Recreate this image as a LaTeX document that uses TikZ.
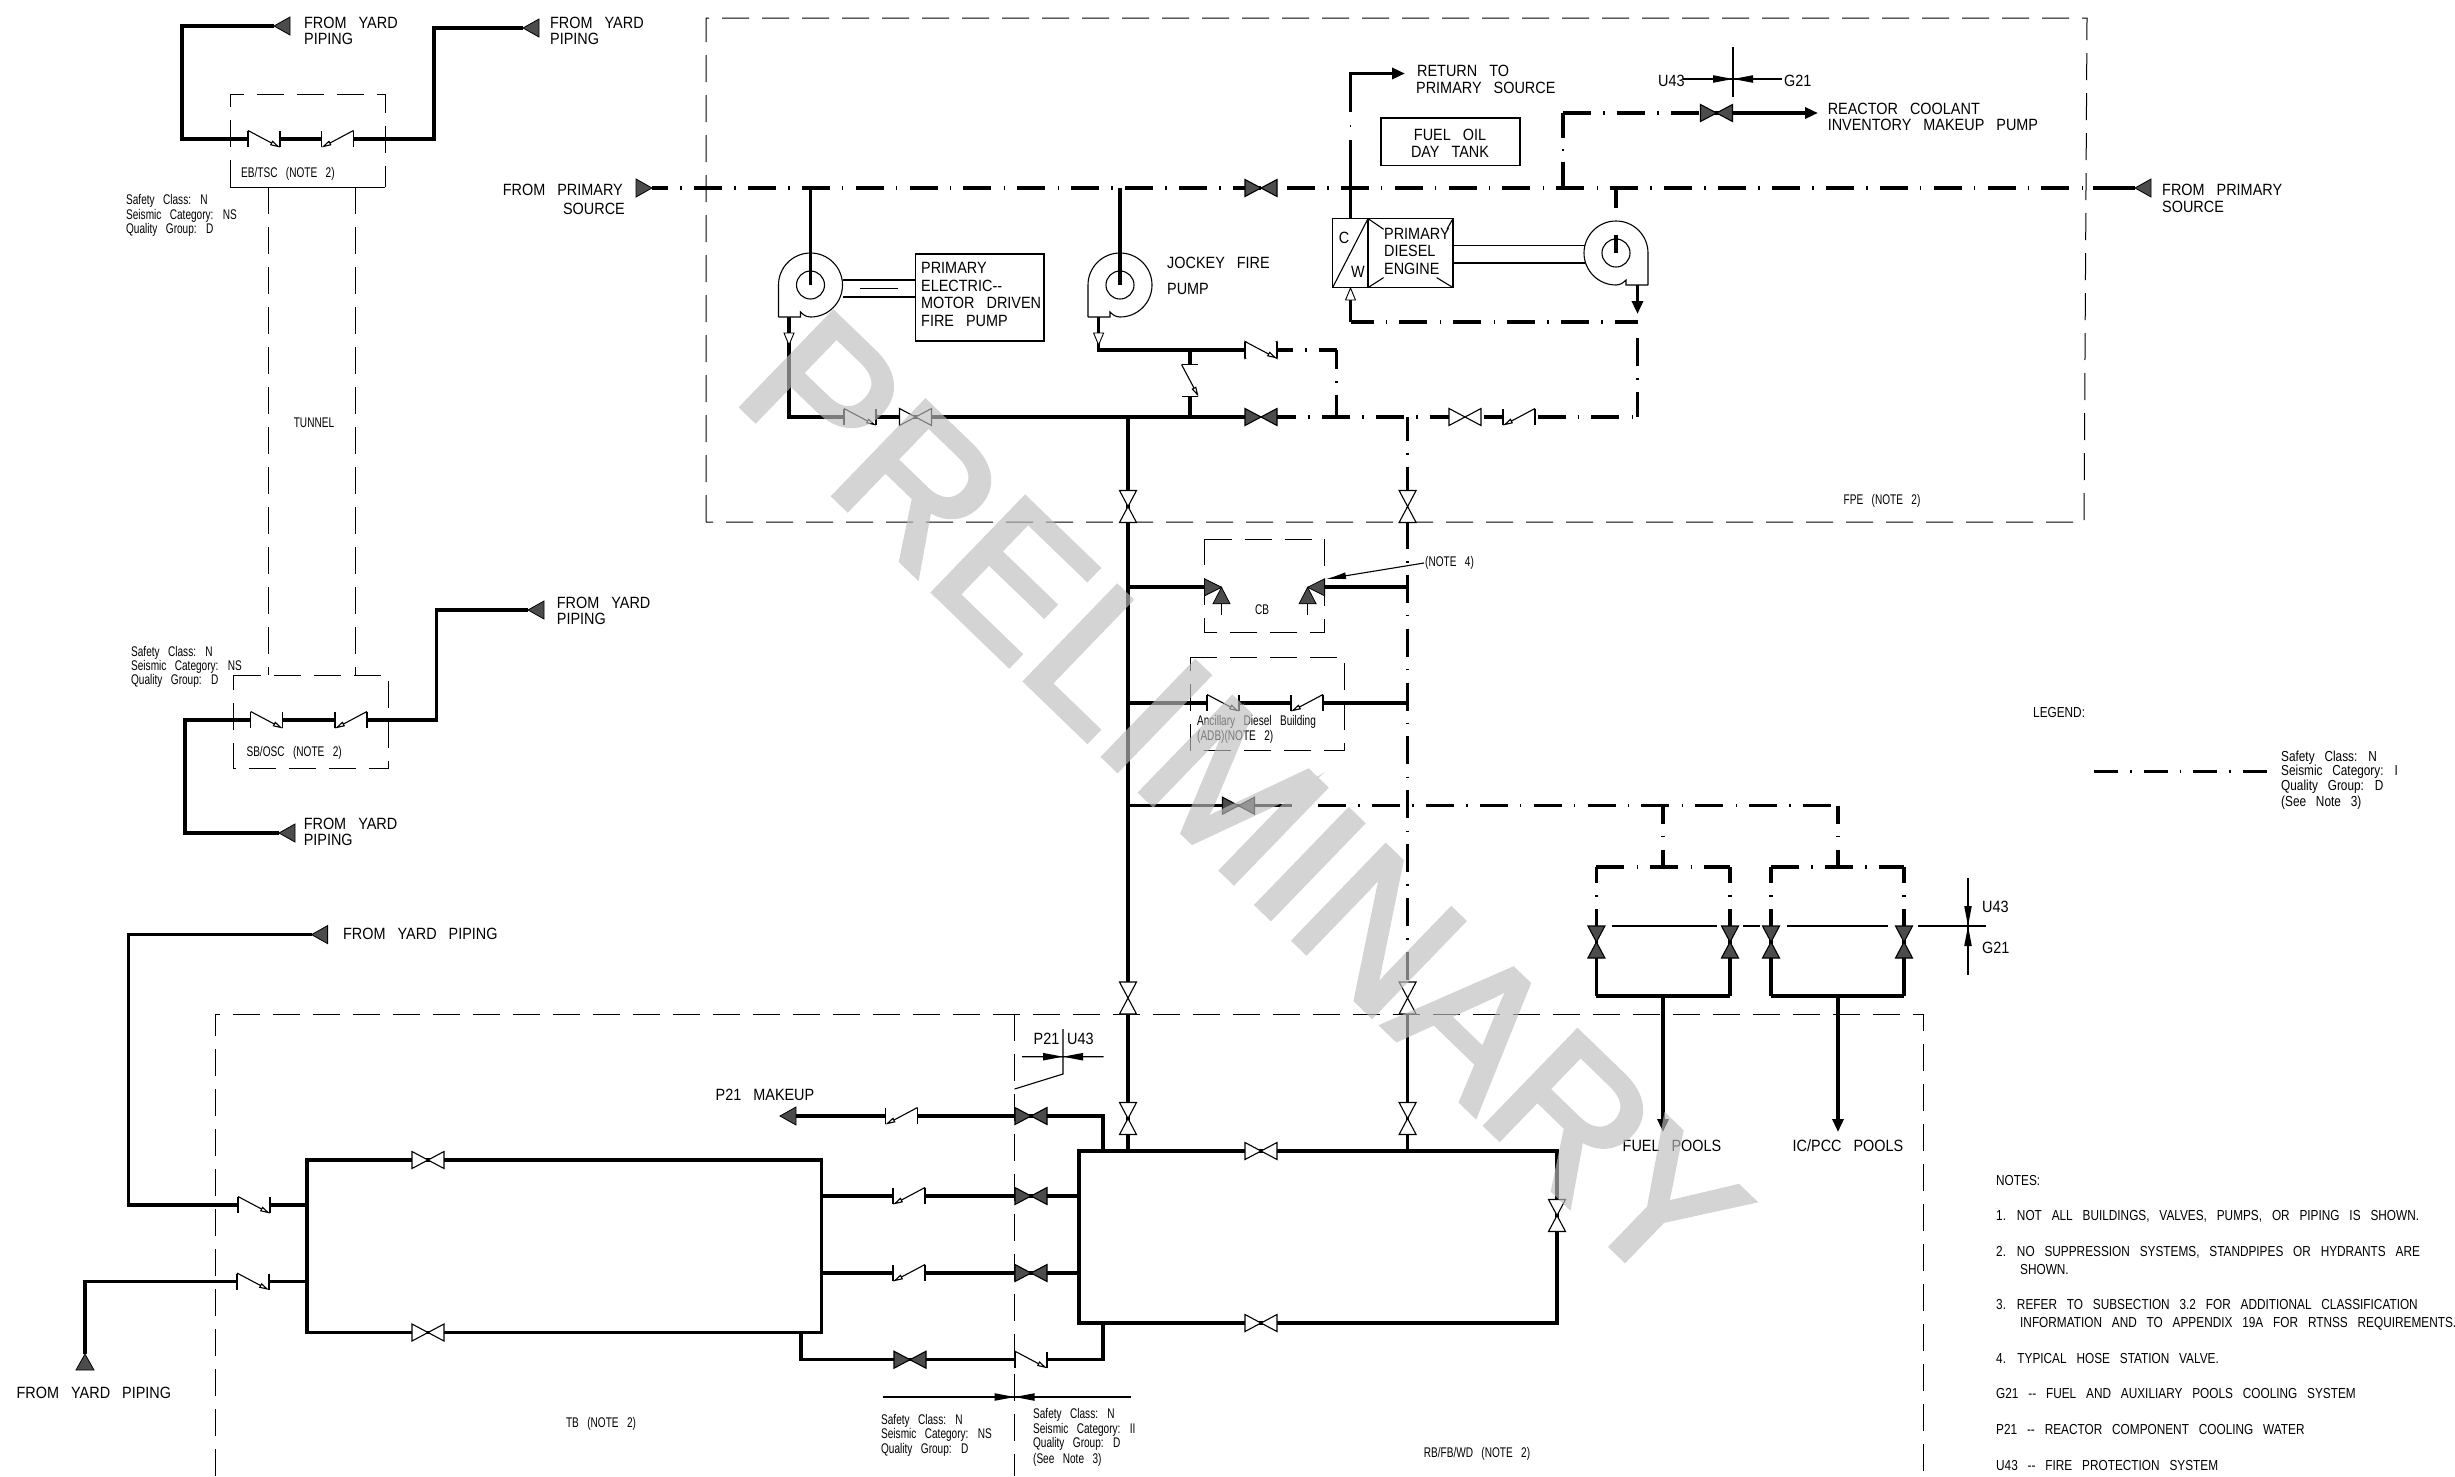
\documentclass[tikz,border=0pt]{standalone}
\usepackage{fontspec}
\setmainfont{Liberation Sans}
\newfontfamily\cadfont[WordSpace=3]{Liberation Sans}
\newfontfamily\wmfont[FakeBold=3]{Liberation Sans}
\usetikzlibrary{arrows.meta}
\newcount\txtno
\tikzset{
  x=1pt,y=-1pt,
  pipe/.style={line width=3.4pt,line join=miter,line cap=butt},
  dd/.style={pipe,dash pattern=on 28pt off 12.2pt on 1.5pt off 12.2pt},
  thinl/.style={line width=1.1pt},
  bldg/.style={line width=1pt,dash pattern=on 27pt off 13pt},
  bigt/.style={inner sep=0pt,anchor=base west,yshift=-5.8pt,xscale=.885,font=\cadfont\fontsize{16.3}{16.3}\selectfont},
  smallt/.style={inner sep=0pt,anchor=base west,yshift=-5pt,xscale=.72,font=\cadfont\fontsize{14}{14}\selectfont},
  notet/.style={inner sep=0pt,anchor=base west,yshift=-5pt,xscale=.815,font=\cadfont\fontsize{14.5}{14.5}\selectfont},
  fulltip/.style={-{Triangle[length=13pt,width=11pt]}},
}
\newcommand\cadB[4][base west]{\global\advance\txtno by 1 \node[bigt,anchor=#1] (t\the\txtno) at (#2,#3) {#4};}
\newcommand\cadS[4][base west]{\global\advance\txtno by 1 \node[smallt,anchor=#1] (t\the\txtno) at (#2,#3) {#4};}
\newcommand\cadN[3]{\global\advance\txtno by 1 \node[notet] (t\the\txtno) at (#1,#2) {#3};}
% valve: x y rot fill
\newcommand\gv[4]{\draw[thinl,fill=#4,rotate around={#3:(#1,#2)}] (#1-16,#2-8.5)--(#1+16,#2+8.5)--(#1+16,#2-8.5)--(#1-16,#2+8.5)--cycle;}
% check valve: x y options
\newcommand\chk[3]{\begin{scope}[shift={(#1,#2)},#3]
  \fill[white] (-16,-8)--(16,-8)--(16,8)--(-16,8)--cycle;
  \draw[thinl] (-16,-8)--(-16,8) (16,-8)--(16,8);
  \draw[thinl,-{Triangle[open,fill=white,length=10pt,width=5pt]}] (-16,-8.5)--(16,8.5);
\end{scope}}
% pipe end triangle, tip at x y, pointing left when rot=0
\newcommand\yard[3]{\begin{scope}[shift={(#1,#2)},rotate=#3]
  \draw[line width=.8pt,fill=black!70] (0,0)--(16,-9)--(16,9)--cycle;\end{scope}}
% small open arrowhead on a pipe, pointing in local +y (down)
\newcommand\otri[3]{\begin{scope}[shift={(#1,#2)},rotate=#3]
  \draw[line width=.9pt,fill=white] (-5,-12)--(5,-12)--(0,0)--cycle;\end{scope}}
% meeting filled arrows
\newcommand\meet[3]{\begin{scope}[shift={(#1,#2)},rotate=#3]
  \fill[black] (-20,-3.8)--(0,0)--(-20,3.8)--cycle (20,-3.8)--(0,0)--(20,3.8)--cycle;\end{scope}}
\newcommand\pump[3]{\begin{scope}[shift={(#1,#2)},xscale=#3]
  \draw[thinl,fill=white] (-32,32)--(-32,0) .. controls (-32,-17.7) and (-17.7,-32) .. (0,-32)
   .. controls (17.7,-32) and (32,-17.7) .. (32,0) .. controls (32,17.7) and (17.7,32) .. (0,32)
   .. controls (-5,32) and (-8,29) .. (-10,27) -- (-10,32) -- (-32,32);
  \draw[thinl] (0,0) circle[radius=14];
\end{scope}}
\newcommand\hose[2]{\begin{scope}[shift={(#1,587.3)},xscale=#2]
  \draw[line width=.8pt,fill=black!70] (-17,-8.5)--(-17,8.5)--(0,0)--cycle;
  \draw[line width=.8pt,fill=black!70] (0,0)--(-8.5,16.5)--(8.5,16.5)--cycle;
  \draw[thinl] (0,16.5)--(0,28);
\end{scope}}
\begin{document}
\begin{tikzpicture}
\useasboundingbox (0,0) rectangle (2455,1476);
\fill[white] (0,0) rectangle (2455,1476);
% ---- building outlines
\draw[bldg] (706,522)--(706,18)--(2087,18)--(2084,522)--cycle;
\draw[bldg] (230,187)--(230,94)--(385,94)--(385,187);
\draw[line width=.9pt] (230,187)--(385,187);
\draw[bldg] (268,187)--(268,675);
\draw[bldg] (355,187)--(355,675);
\draw[bldg] (233.5,675)--(388,675)--(388,768)--(233.5,768)--cycle;
\draw[bldg] (1204.6,539)--(1324.5,539)--(1324.5,632)--(1204.6,632)--cycle;
\draw[bldg] (1190,657)--(1344,657)--(1344,750)--(1190,750)--cycle;
\draw[bldg] (215,1476)--(215,1014)--(1923,1014)--(1923,1476);
\draw[bldg] (1014.6,1014)--(1014.6,1476);
% ---- yard piping, top left
\draw[pipe] (274,26)--(182,26)--(182,139)--(434,139)--(434,28)--(523,28);
\draw[pipe] (528,610)--(436.6,610)--(436.6,720)--(185,720)--(185,833)--(279,833);
\draw[pipe] (311.6,934.6)--(128.6,934.6)--(128.6,1205)--(307,1205);
\draw[pipe] (85,1354)--(85,1281.5)--(307,1281.5);
% ---- main headers
\draw[dd,dash phase=12pt] (652,188)--(2084,188);
\draw[pipe] (2093,188)--(2135,188);
\draw[pipe] (810.5,188)--(810.5,285);
\draw[pipe] (1120,188)--(1120,285);
\draw[pipe] (789,317)--(789,417)--(1245,417);
\draw[dd,dash phase=9pt] (1277,417)--(1637,417);
\draw[dd] (1637.5,338)--(1637.5,417);
\draw[pipe] (1098.6,317)--(1098.6,350)--(1245,350);
\draw[pipe] (1190,350)--(1190,417);
\draw[dd,dash phase=12pt] (1277,350)--(1336.5,350);
\draw[dd,dash phase=9pt] (1336.5,350)--(1336.5,417);
\draw[pipe] (1616,188)--(1616,208) (1616,221)--(1616,253);
\draw[pipe,fulltip] (1637.5,285)--(1637.5,314);
\draw[dd,dash phase=5pt] (1350.5,322)--(1637.5,322);
\draw[pipe] (1350.5,322)--(1350.5,300);
% return / makeup branches
\draw[pipe,fulltip] (1350.5,112)--(1350.5,73.5)--(1405,73.5);
\fill (1349.7,125) rectangle (1351.3,127);
\draw[pipe] (1350.5,140)--(1350.5,218);
\draw[pipe] (1563,188)--(1563,162) (1563,138)--(1563,113);
\fill (1562.2,149) rectangle (1563.8,151);
\draw[dd] (1563,113)--(1700,113);
\draw[pipe,fulltip] (1700,113)--(1818,113);
% vertical mains
\draw[pipe] (1128,417)--(1128,982) (1128,1014)--(1128,1151);
\draw[dd,dash phase=4pt] (1407.6,417)--(1407.6,982);
\draw[pipe] (1407.6,1014)--(1407.6,1151);
% branches
\draw[pipe] (1128,587)--(1205,587) (1324,587)--(1407.6,587);
\draw[pipe] (1128,703)--(1407.6,703);
\draw[pipe] (1128,805.7)--(1292,805.7);
\draw[dd] (1318,805.7)--(1838,805.7);
\draw[dd,dash phase=10pt] (1663,805.7)--(1663,867);
\draw[dd,dash phase=10pt] (1838,805.7)--(1838,867);
\draw[dd] (1596.4,867)--(1730,867);
\draw[dd] (1771,867)--(1904,867);
\foreach \vx in {1596.4,1730,1771,1904}{
  \draw[dd,dash phase=12pt] (\vx,867)--(\vx,926);
  \draw[pipe] (\vx,926)--(\vx,996);
}
\draw[pipe] (1596.4,996)--(1730,996) (1771,996)--(1904,996);
\draw[pipe,fulltip] (1663,996)--(1663,1132);
\draw[pipe,fulltip] (1838,996)--(1838,1132);
\draw[thinl] (1612,926)--(1717,926) (1743,926)--(1760,926) (1787,926)--(1888,926);
% ---- TB and RB loops
\draw[pipe] (307,1160)--(821.7,1160)--(821.7,1332.5)--(307,1332.5)--cycle;
\draw[pipe] (1079,1151)--(1557,1151)--(1557,1323)--(1079,1323)--cycle;
\draw[pipe] (1103,1151)--(1103,1116)--(796,1116);
\draw[pipe] (821.7,1196)--(1079,1196);
\draw[pipe] (821.7,1273)--(1079,1273);
\draw[pipe] (801,1332.5)--(801,1359.7)--(1103,1359.7)--(1103,1323);
% ---- pumps, engine, boxes
\pump{810.5}{285}{1}
\pump{1120}{285}{1}
\pump{1616}{253}{-1}
\draw[pipe] (810.5,188)--(810.5,285);
\draw[pipe] (1120,188)--(1120,285);
\draw[pipe] (1616,235)--(1616,253);
\draw[thinl] (843,280)--(915.5,280) (843,297)--(915.5,297) (860,288.5)--(898,288.5);
\draw[thinl] (915.5,254) rectangle (1044,341);
\draw[thinl] (1381,118) rectangle (1520,165.5);
\draw[thinl,fill=white] (1332.6,218.6) rectangle (1368,287.6);
\draw[thinl] (1332.6,287.6)--(1368,218.6);
\draw[thinl,fill=white] (1368,218.6) rectangle (1453,287.6);
\draw[thinl] (1368,218.6)--(1383.6,229.3) (1453,218.6)--(1447,229) (1368,287.6)--(1383.6,277.6) (1453,287.6)--(1436.6,277.6);
\draw[thinl] (1453,245.5)--(1585,245.5) (1453,263)--(1585,263);
% ---- arrowheads on pipes
\otri{789}{345}{0}
\otri{1098.6}{345}{0}
\otri{1350.5}{288}{180}
% ---- pipe ends
\yard{274}{26}{0}
\yard{523}{28}{0}
\yard{528}{610}{0}
\yard{279}{833}{0}
\yard{311.6}{934.6}{0}
\yard{85}{1354}{-90}
\yard{652}{188}{180}
\yard{2135}{188}{0}
\yard{780}{1116}{0}
% ---- valves
\gv{1261}{188}{0}{black!70}
\gv{1261}{350}{0}{black!70}
\gv{1261}{417}{0}{black!70}
\gv{915.5}{417}{0}{white}
\gv{1465}{417}{0}{white}
\gv{1128}{506.5}{90}{white}
\gv{1407.6}{506.5}{90}{white}
\gv{1128}{998}{90}{white}
\gv{1407.6}{998}{90}{white}
\gv{1128}{1118.5}{90}{white}
\gv{1407.6}{1118.5}{90}{white}
\gv{1238.5}{805.7}{0}{black!70}
\gv{1716.5}{113}{0}{black!70}
\foreach \vx in {1596.4,1730,1771,1904}{\gv{\vx}{942}{90}{black!70}}
\gv{428}{1160}{0}{white}
\gv{428}{1332.5}{0}{white}
\gv{1261}{1151}{0}{white}
\gv{1261}{1323}{0}{white}
\gv{1557}{1215.5}{90}{white}
\gv{1031}{1116}{0}{black!70}
\gv{1031}{1196}{0}{black!70}
\gv{1031}{1273}{0}{black!70}
\gv{910}{1359.7}{0}{black!70}
% check valves
\chk{264}{139}{}
\chk{337.5}{139}{xscale=-1}
\chk{266.7}{720}{}
\chk{351}{720}{xscale=-1}
\chk{1223}{703}{}
\chk{1307}{703}{xscale=-1}
\chk{254}{1205}{}
\chk{253}{1281.5}{}
\chk{901.5}{1116}{xscale=-1}
\chk{909}{1196}{xscale=-1}
\chk{909}{1273}{xscale=-1}
\chk{1031}{1359.7}{}
\chk{860}{417}{}
\chk{1519}{417}{xscale=-1}
\chk{1261}{350}{}
\chk{1190}{380.5}{rotate=-90,yscale=-1}
\hose{1221.5}{1}
\hose{1307.6}{-1}
% ---- interface markers
\draw[thinl] (1733,47)--(1733,97) (1683,79)--(1782,79);
\meet{1733}{79}{0}
\draw[thinl] (1968,878)--(1968,975) (1918,926)--(1986,926);
\meet{1968}{926}{90}
\draw[thinl] (1063,1029)--(1063,1074)--(1014.6,1089) (1022,1056.7)--(1103.5,1056.7);
\meet{1063}{1056.7}{0}
\draw[thinl] (882.5,1397)--(1130.5,1397);
\meet{1014.6}{1397}{0}
\draw[thinl,-{Latex[length=20pt,width=7pt]}] (1424,563)--(1326,579);
% legend line
\draw[pipe,dash pattern=on 24pt off 12pt on 1.5pt off 12pt] (2094,771.4)--(2268,771.4);
% ---- texts
\cadB{304}{23}{FROM YARD}\cadB{304}{39}{PIPING}
\cadB{550}{23}{FROM YARD}\cadB{550}{39}{PIPING}
\cadB[base east]{623}{190}{FROM PRIMARY}\cadB[base east]{625}{209}{SOURCE}
\cadB{2162}{190}{FROM PRIMARY}\cadB{2162}{207}{SOURCE}
\cadB{556.7}{603}{FROM YARD}\cadB{556.7}{619}{PIPING}
\cadB{303.6}{823.5}{FROM YARD}\cadB{303.6}{839.6}{PIPING}
\cadB{343}{934}{FROM YARD PIPING}
\cadB{16.5}{1393}{FROM YARD PIPING}
\cadS{241}{172}{EB/TSC (NOTE 2)}
\cadS{246.4}{751}{SB/OSC (NOTE 2)}
\cadS[base]{314}{422}{TUNNEL}
\cadS{126}{199}{Safety Class: N}\cadS{126}{214}{Seismic Category: NS}\cadS{126}{228}{Quality Group: D}
\cadS{131}{651}{Safety Class: N}\cadS{131}{665}{Seismic Category: NS}\cadS{131}{679}{Quality Group: D}
\cadB{1417}{71}{RETURN TO}\cadB{1416}{88}{PRIMARY SOURCE}
\cadB[base]{1450}{134.5}{FUEL OIL}\cadB[base]{1450}{152}{DAY TANK}
\cadB{1827.6}{109}{REACTOR COOLANT}\cadB{1827.6}{125}{INVENTORY MAKEUP PUMP}
\cadB{1658}{81}{U43}\cadB{1784}{81}{G21}
\cadB{921}{268}{PRIMARY}\cadB{921}{286}{ELECTRIC--}\cadB{921}{303}{MOTOR DRIVEN}\cadB{921}{321}{FIRE PUMP}
\cadB{1167}{263}{JOCKEY FIRE}\cadB{1167}{289}{PUMP}
\cadB[base]{1344}{238}{C}\cadB[base]{1358}{272}{W}
\cadB{1384}{234}{PRIMARY}\cadB{1384}{251}{DIESEL}\cadB{1384}{269}{ENGINE}
\cadS[base]{1882}{499}{FPE (NOTE 2)}
\cadS[base]{1262}{609}{CB}
\cadS{1425}{561}{(NOTE 4)}
\cadS{1197}{720}{Ancillary Diesel Building}\cadS{1197}{735}{(ADB)(NOTE 2)}
\cadN{2033}{712}{LEGEND:}
\cadN{2281}{756}{Safety Class: N}\cadN{2281}{770}{Seismic Category: I}\cadN{2281}{785}{Quality Group: D}\cadN{2281}{801}{(See Note 3)}
\cadB{1982}{907}{U43}\cadB{1982}{948}{G21}
\cadB[base]{1672}{1146}{FUEL POOLS}\cadB[base]{1848}{1146}{IC/PCC POOLS}
\cadB{715.5}{1095}{P21 MAKEUP}
\cadB{1033.5}{1039}{P21}\cadB{1067}{1039}{U43}
\cadS[base]{601}{1422}{TB (NOTE 2)}
\cadS[base]{1477}{1452}{RB/FB/WD (NOTE 2)}
\cadS{881}{1419}{Safety Class: N}\cadS{881}{1433}{Seismic Category: NS}\cadS{881}{1448}{Quality Group: D}
\cadS{1033}{1413}{Safety Class: N}\cadS{1033}{1428}{Seismic Category: II}\cadS{1033}{1442}{Quality Group: D}\cadS{1033}{1458}{(See Note 3)}
\cadN{1996}{1180}{NOTES:}
\cadN{1996}{1215.5}{1. NOT ALL BUILDINGS, VALVES, PUMPS, OR PIPING IS SHOWN.}
\cadN{1996}{1251}{2. NO SUPPRESSION SYSTEMS, STANDPIPES OR HYDRANTS ARE}
\cadN{2020}{1269}{SHOWN.}
\cadN{1996}{1304}{3. REFER TO SUBSECTION 3.2 FOR ADDITIONAL CLASSIFICATION}
\cadN{2020}{1322}{INFORMATION AND TO APPENDIX 19A FOR RTNSS REQUIREMENTS.}
\cadN{1996}{1358}{4.\hspace{14pt}TYPICAL HOSE STATION VALVE.}
\cadN{1996}{1393}{G21 -- FUEL AND AUXILIARY POOLS COOLING SYSTEM}
\cadN{1996}{1429}{P21 -- REACTOR COMPONENT COOLING WATER}
\cadN{1996}{1465}{U43 -- FIRE PROTECTION SYSTEM}
% ---- watermark
\begin{scope}[transparency group,opacity=.65]
\node[rotate=-44,xscale=1.01,anchor=base,inner sep=0pt,text=black!26,font=\wmfont\fontsize{190}{190}\selectfont] (wm) at (1198,847) {PRELIMINARY};
\end{scope}
\end{tikzpicture}
\end{document}
